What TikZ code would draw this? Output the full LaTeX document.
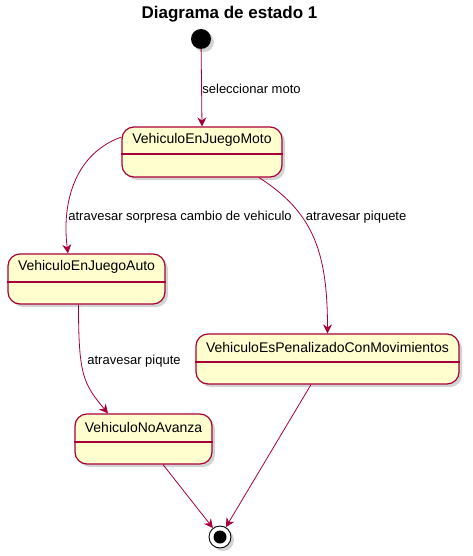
\documentclass[tikz,border=0pt]{standalone}
\usepackage{fontspec}
\setmainfont{Liberation Sans}
\usetikzlibrary{arrows.meta,shadows}
\definecolor{umlred}{HTML}{A80036}
\definecolor{umlfill}{HTML}{FEFECE}
\tikzset{
  stbox/.style={draw=umlred, fill=umlfill, line width=1.2pt, rounded corners=12pt,
    minimum height=50pt, inner sep=0pt,
    drop shadow={shadow xshift=3pt, shadow yshift=-3pt, opacity=0.35, fill=gray}},
  stname/.style={font=\fontsize{14}{16}\selectfont, anchor=center},
  lbl/.style={font=\fontsize{13}{15}\selectfont, anchor=west, inner sep=0pt},
  conn/.style={draw=umlred, line width=0.8pt, -{Stealth[length=9pt,width=9pt,inset=3pt]}},
  divider/.style={draw=umlred, line width=1.1pt}
}
\begin{document}
\begin{tikzpicture}[x=1pt,y=-1pt]
\useasboundingbox (0,0) rectangle (472,556);
\node[font=\bfseries\fontsize{17}{20}\selectfont] (title) at (229.5,14) {Diagrama de estado 1};
% initial
\node[circle, fill=black, minimum size=20pt, inner sep=0pt,
  drop shadow={shadow xshift=3pt, shadow yshift=-3pt, opacity=0.35, fill=gray}] (init) at (201,39) {};
% states
\node[stbox, minimum width=160pt] (moto) at (202,152) {};
\node[stname] (motot) at (202,140) {VehiculoEnJuegoMoto};
\draw[divider] (moto.west |- 0,154) -- (moto.east |- 0,154);

\node[stbox, minimum width=157pt] (auto) at (86.5,279) {};
\node[stname] (autot) at (86.5,267) {VehiculoEnJuegoAuto};
\draw[divider] (auto.west |- 0,282) -- (auto.east |- 0,282);

\node[stbox, minimum width=263pt] (pen) at (327.5,359) {};
\node[stname] (pent) at (327.5,347) {VehiculoEsPenalizadoConMovimientos};
\draw[divider] (pen.west |- 0,362) -- (pen.east |- 0,362);

\node[stbox, minimum width=137pt] (noav) at (143.5,439) {};
\node[stname] (noavt) at (143.5,427) {VehiculoNoAvanza};
\draw[divider] (noav.west |- 0,442) -- (noav.east |- 0,442);

% final
\node[circle, draw=black, fill=white, line width=0.9pt, minimum size=22pt, inner sep=0pt,
  drop shadow={shadow xshift=3pt, shadow yshift=-3pt, opacity=0.35, fill=gray}] (fin) at (220,537) {};
\node[circle, fill=black, minimum size=13pt, inner sep=0pt] (finin) at (fin.center) {};

% connectors
\draw[conn] (init) -- (moto.north)
  node[lbl] at (202,89) {seleccionar moto};
\draw[conn] ([yshift=15pt]moto.west) .. controls +(-50,18) and +(-6,-45) .. ([xshift=-18.5pt]auto.north)
  node[lbl] at (68,217) {atravesar sorpresa cambio de vehiculo};
\draw[conn] ([xshift=57pt]moto.south) .. controls +(55,35) and +(0,-80) .. (pen.north)
  node[lbl] at (305.5,217) {atravesar piquete};
\draw[conn] ([xshift=-8pt]auto.south) .. controls +(0,70) and +(-25,-30) .. ([xshift=-35.5pt]noav.north)
  node[lbl] at (87,361) {atravesar piqute};
\draw[conn] ([xshift=19.5pt]noav.south) -- (fin);
\draw[conn] ([xshift=-16.5pt]pen.south) -- (fin);
\end{tikzpicture}
\end{document}
